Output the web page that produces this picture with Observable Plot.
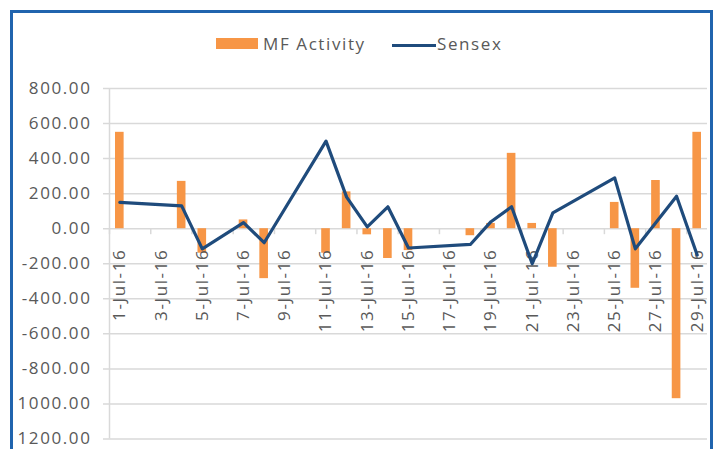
<!DOCTYPE html>
<html><head><meta charset="utf-8">
<script src="https://cdn.jsdelivr.net/npm/d3@7"></script>
<script src="https://cdn.jsdelivr.net/npm/@observablehq/plot@0.6"></script>
<style>
html,body{margin:0;padding:0;background:#fff;}
#frame{position:absolute;left:10px;top:10px;width:697px;height:445px;border:3px solid #2064ae;border-bottom:none;overflow:hidden;background:#fff;font-family:"Open Sans",sans-serif;color:#595959;}
#chart{position:absolute;left:0;top:0}
#chart svg text{letter-spacing:1.6px;}
#legend .sw{position:absolute}
#legend .lab{position:absolute;font-size:17px;line-height:17px;letter-spacing:1.6px;white-space:nowrap;color:#595959}
</style></head><body>
<div id="frame"><div id="chart"></div><div id="legend"></div></div>
<script>
// Trading days of July 2016
const days = [1, 4, 5, 7, 8, 11, 12, 13, 14, 15, 18, 19, 20, 21, 22, 25, 26, 27, 28, 29];
const mfActivity = [550, 270, -140, 50, -285, -140, 210, -35, -170, -125, -40, 30, 430, 30, -220, 150, -340, 275, -970, 550];
const sensex = [150, 130, -115, 35, -80, 500, 180, 10, 125, -110, -90, 40, 125, -200, 90, 290, -115, 35, 185, -150];
const xTickLabels = ["1-Jul-16", "3-Jul-16", "5-Jul-16", "7-Jul-16", "9-Jul-16", "11-Jul-16", "13-Jul-16", "15-Jul-16", "17-Jul-16", "19-Jul-16", "21-Jul-16", "23-Jul-16", "25-Jul-16", "27-Jul-16", "29-Jul-16"];
const yTicks = [800, 600, 400, 200, 0, -200, -400, -600, -800, -1000, -1200];
// tick labels as they appear in the picture (the two lowest lose their minus sign at the frame edge)
const yTickLabels = ["800.00", "600.00", "400.00", "200.00", "0.00", "-200.00", "-400.00", "-600.00", "-800.00", "1000.00", "1200.00"];
const seriesNames = ["MF Activity", "Sensex"];
const seriesColors = ["#f79646", "#1f4b7c"];

const mfData = days.map((d, i) => ({day: d, value: mfActivity[i]}));
const sxData = days.map((d, i) => ({day: d, value: sensex[i]}));
const labelData = xTickLabels.map(s => ({day: parseInt(s), label: s}));
const yLabelData = yTicks.map((v, i) => ({value: v, label: yTickLabels[i]}));
const xDomain = [0.5, 29.5];
const boundaryTicks = labelData.map(d => d.day - 0.5);
const gridColor = "#d9d9d9";

const chart = Plot.plot({
  width: 697, height: 440,
  marginTop: 75, marginBottom: 14.5, marginLeft: 96, marginRight: 3,
  x: {type: "linear", domain: xDomain, axis: null},
  y: {domain: [-1200, 800], axis: null},
  style: {fontFamily: "'Open Sans', sans-serif", fontSize: "17px", color: "#595959", background: "white"},
  marks: [
    Plot.ruleY(yTicks, {stroke: gridColor, strokeWidth: 1.5, insetLeft: -6}),
    Plot.ruleX([xDomain[0]], {stroke: gridColor, strokeWidth: 1.5}),
    Plot.ruleX(boundaryTicks, {y1: 0, y2: 0, insetBottom: -6, stroke: gridColor, strokeWidth: 1.5}),
    Plot.text(yLabelData, {x: xDomain[0], y: "value", text: "label", textAnchor: "end", dx: -18, fill: "#595959"}),
    Plot.rectY(mfData, {x1: d => d.day - 0.5, x2: d => d.day + 0.5, y1: 0, y2: "value", insetLeft: 6, insetRight: 6, fill: seriesColors[0]}),
    Plot.text(labelData, {x: "day", y: 0, text: "label", rotate: -90, textAnchor: "end", dy: 20, fill: "#595959"}),
    Plot.line(sxData, {x: "day", y: "value", stroke: seriesColors[1], strokeWidth: 3.2})
  ]
});
document.getElementById("chart").appendChild(chart);

// Legend
const legend = document.getElementById("legend");
const legendLayout = [
  {sw: {left: 203, top: 25, width: 42, height: 11}, lab: {left: 250, top: 22}},
  {sw: {left: 379, top: 31, width: 44, height: 3}, lab: {left: 424, top: 22}}
];
seriesNames.forEach((name, i) => {
  const L = legendLayout[i];
  const sw = document.createElement("div");
  sw.className = "sw";
  Object.assign(sw.style, {left: L.sw.left + "px", top: L.sw.top + "px", width: L.sw.width + "px", height: L.sw.height + "px", background: seriesColors[i]});
  legend.appendChild(sw);
  const lab = document.createElement("div");
  lab.className = "lab";
  lab.textContent = name;
  Object.assign(lab.style, {left: L.lab.left + "px", top: L.lab.top + "px"});
  legend.appendChild(lab);
});
</script>
</body></html>
